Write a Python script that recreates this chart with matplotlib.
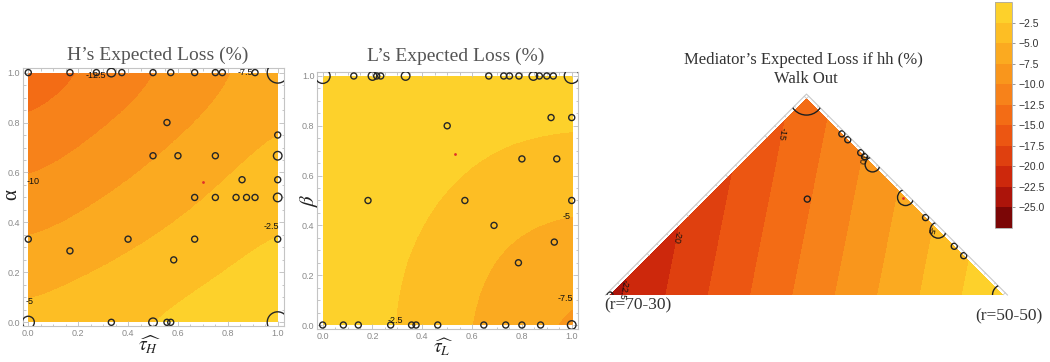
import numpy as np
import matplotlib
matplotlib.use("Agg")
import matplotlib.pyplot as plt
import matplotlib.tri as mtri
from matplotlib.colors import ListedColormap, BoundaryNorm
from matplotlib.cm import ScalarMappable
from matplotlib.patches import Rectangle, Polygon
from matplotlib.ticker import MultipleLocator, FormatStrFormatter

plt.rcParams['font.family'] = ['Liberation Sans', 'DejaVu Sans']
plt.rcParams['mathtext.fontset'] = 'stix'

# colour bands from -27.5 up to 0, step 2.5 (dark -> light)
band_colors = ['#7B0606', '#AC140A', '#CD280C', '#DF400F', '#EC5612', '#F36C15',
               '#F7821A', '#F9961C', '#FBAA20', '#FDBE24', '#FDD12B']
levels = np.arange(-27.5, 0.01, 2.5)
cbar_ticks = [-25.0, -22.5, -20.0, -17.5, -15.0, -12.5, -10.0, -7.5, -5.0, -2.5]

# loss on a 5x5 grid (rows: alpha / beta, cols: tau)
grid_pos = [0.0, 0.25, 0.5, 0.75, 1.0]
h_loss = [[-4.1, -3.1, -2.2, -1.2, -0.2],
          [-6.7, -5.5, -4.2, -3.0, -1.7],
          [-9.3, -7.8, -6.3, -4.7, -3.2],
          [-11.9, -10.1, -8.3, -6.5, -4.7],
          [-14.5, -12.4, -10.4, -8.3, -6.2]]
l_loss = [[-0.1, -2.2, -4.3, -6.3, -8.4],
          [-0.2, -1.9, -3.8, -5.6, -6.5],
          [-0.3, -1.1, -2.8, -4.1, -4.6],
          [-0.3, -0.3, -1.4, -2.4, -2.7],
          [-0.3, -0.3, -0.3, -0.6, -0.9]]

# mediator triangle: value at left corner, right corner, apex
tri_s = [0.0, 1.0, 0.5]
tri_t = [0.0, 0.0, 0.5]
tri_loss = [-23.3, -0.1, -14.0]

# observations (x, y, count)
h_x = [0, 0.167, 0.273, 0.333, 0.375, 0.5, 0.571, 0.667, 0.75, 0.778, 0.909, 1,
       0.556, 1, 0.5, 0.6, 0.75, 1, 0.857, 1, 0.667, 0.75, 0.833, 0.875, 0.909, 1,
       0, 0.4, 0.667, 1, 0.167, 0.583,
       0, 0.333, 0.5, 0.556, 0.571, 1]
h_y = [1, 1, 1, 1, 1, 1, 1, 1, 1, 1, 1, 1,
       0.8, 0.75, 0.667, 0.667, 0.667, 0.667, 0.571, 0.571, 0.5, 0.5, 0.5, 0.5, 0.5, 0.5,
       0.333, 0.333, 0.333, 0.333, 0.286, 0.25,
       0, 0, 0, 0, 0, 0]
h_n = [1, 1, 1, 2, 1, 1, 1, 1, 1, 1, 1, 12,
       1, 1, 1, 1, 1, 2, 1, 1, 1, 1, 1, 1, 1, 2,
       1, 1, 1, 1, 1, 1,
       4, 1, 2, 1, 1, 12]
h_mean = (0.70, 0.56)

l_x = [0, 0.125, 0.2, 0.217, 0.233, 0.333, 0.667, 0.727, 0.75, 0.788, 0.846, 0.87, 0.9, 0.926, 1,
       0.917, 1, 0.5, 0.8, 0.94, 0.182, 0.571, 1, 0.688, 0.93, 0.786,
       0, 0.083, 0.143, 0.273, 0.357, 0.375, 0.462, 0.647, 0.735, 0.8, 0.875, 1]
l_y = [1] * 15 + [0.833, 0.833, 0.8, 0.667, 0.667, 0.5, 0.5, 0.5, 0.4, 0.333, 0.25] + [0] * 12
l_n = [6, 1, 2, 1, 1, 2, 1, 1, 1, 1, 2, 1, 1, 1, 6,
       1, 1, 1, 1, 1, 1, 1, 1, 1, 1, 1,
       1, 1, 1, 1, 1, 1, 1, 1, 1, 1, 1, 2]
l_mean = (0.531, 0.685)

m_s = [0.5, 0.59, 0.605, 0.638, 0.648, 0.668, 0.752, 0.803, 0.835, 0.876, 0.9, 1.0, 0.502, 0.0]
m_t = [0.5, 0.41, 0.395, 0.362, 0.352, 0.332, 0.248, 0.197, 0.165, 0.124, 0.1, 0.0, 0.244, 0.0]
m_n = [30, 1, 1, 1, 1, 6, 7, 1, 7, 1, 1, 12, 1, 1]
m_mean = (0.745, 0.247)

cmap = ListedColormap(band_colors)
cmap.set_over(band_colors[-1])
norm = BoundaryNorm(levels, len(band_colors))

W, H = 1050, 362
fig = plt.figure(figsize=(W / 100, H / 100), dpi=100)


def square_panel(rect, grid, xs, ys, ns, mean, clabels):
    ax = fig.add_axes(rect)
    step = grid_pos[1] - grid_pos[0]
    ext = (grid_pos[0] - step / 2, grid_pos[-1] + step / 2,
           grid_pos[0] - step / 2, grid_pos[-1] + step / 2)
    im = ax.imshow(np.array(grid), extent=ext, origin='lower', cmap=cmap, norm=norm,
                   interpolation='bicubic', interpolation_stage='data', zorder=0)
    im.set_clip_path(Rectangle((0, 0), 1, 1, transform=ax.transData))
    ax.set_aspect('auto')
    ax.set_xlim(-0.022, 1.024)
    ax.set_ylim(-0.016, 1.018)
    ax.scatter(xs, ys, s=19 * np.asarray(ns), facecolors='none', edgecolors='#262626',
               linewidths=1.0, zorder=3)
    ax.plot(mean[0], mean[1], 'o', ms=2, color='#e0302a', mec='none', zorder=4)
    for txt, x, y in clabels:
        ax.text(x, y, txt, fontsize=6.5, ha='center', va='center', color='#111111', zorder=5)
    ax.xaxis.set_major_locator(MultipleLocator(0.2))
    ax.yaxis.set_major_locator(MultipleLocator(0.2))
    ax.xaxis.set_minor_locator(MultipleLocator(0.05))
    ax.yaxis.set_minor_locator(MultipleLocator(0.05))
    ax.xaxis.set_major_formatter(FormatStrFormatter('%.1f'))
    ax.yaxis.set_major_formatter(FormatStrFormatter('%.1f'))
    ax.tick_params(which='both', direction='in', top=True, right=True,
                   color='#bdbdbd', width=0.6, labelsize=6.5, labelcolor='#8a8a8a', pad=2)
    ax.tick_params(which='major', length=3.5)
    ax.tick_params(which='minor', length=1.8)
    for sp in ax.spines.values():
        sp.set_color('#c4c4c4')
        sp.set_linewidth(0.8)
    return ax


ax1 = square_panel([22.8 / W, 1 - 326.3 / H, 260.9 / W, 258.2 / H], h_loss, h_x, h_y, h_n, h_mean,
                   [('-12.5', 0.27, 0.99), ('-10', 0.02, 0.563), ('-7.5', 0.87, 1.0),
                    ('-5', 0.005, 0.083), ('-2.5', 0.975, 0.383)])
ax2 = square_panel([317.2 / W, 1 - 329 / H, 260.5 / W, 257.5 / H], l_loss, l_x, l_y, l_n, l_mean,
                   [('-2.5', 0.29, 0.02), ('-5', 0.98, 0.435), ('-7.5', 0.975, 0.107)])

fig.text(157.5 / W, 1 - 55 / H, 'H\u2019s Expected Loss (%)', fontsize=14, family='Liberation Serif',
         color='#555555', ha='center', va='center')
fig.text(455.8 / W, 1 - 56 / H, 'L\u2019s Expected Loss (%)', fontsize=14, family='Liberation Serif',
         color='#555555', ha='center', va='center')
fig.text(12 / W, 1 - 195 / H, '\u03b1', fontsize=15, family='Liberation Serif', rotation=90,
         ha='center', va='center', color='#222222')
fig.text(309 / W, 1 - 200 / H, r'$\beta$', fontsize=15, rotation=90,
         ha='center', va='center', color='#222222')
fig.text(150 / W, 1 - 345 / H, r'$\widehat{\tau_H}$', fontsize=14, ha='center', va='center',
         color='#222222')
fig.text(443 / W, 1 - 347 / H, r'$\widehat{\tau_L}$', fontsize=14, ha='center', va='center',
         color='#222222')

# mediator triangle
ax3 = fig.add_axes([590.35 / W, 1 - 314.65 / H, 432.3 / W, 235.8 / H])
ax3.set_xlim(-0.05, 1.05)
ax3.set_ylim(-0.05, 0.55)
ax3.axis('off')
triang = mtri.Triangulation(tri_s, tri_t)
ax3.tricontourf(triang, tri_loss, levels=levels, colors=band_colors)

d = 0.008 * np.sqrt(2)
ax3.plot([-d, 0.5, 1 + d], [0, 0.5 + d, 0], color='#c8c8c8', lw=0.8, clip_on=False)
off = 0.008 / np.sqrt(2)
for k in np.arange(0, 0.501, 0.025):
    ln = 0.007 if abs(k * 10 - round(k * 10)) < 1e-6 else 0.0035
    ln = ln / np.sqrt(2)
    # left edge, normal (-1, 1)
    ax3.plot([k - off, k - off + ln], [k + off, k + off - ln], color='#c8c8c8', lw=0.6, clip_on=False)
    # right edge, normal (1, 1)
    ax3.plot([1 - k + off, 1 - k + off - ln], [k + off, k + off - ln], color='#c8c8c8', lw=0.6,
             clip_on=False)

clip = Polygon([(-d, 0), (0.5, 0.5 + d), (1 + d, 0)], closed=True, transform=ax3.transData)
sc = ax3.scatter(m_s, m_t, s=19 * np.asarray(m_n), facecolors='none', edgecolors='#1f1f1f',
                 linewidths=1.0, zorder=3, clip_on=True)
sc.set_clip_path(clip)
ax3.plot(m_mean[0], m_mean[1], 'o', ms=2, color='#e0302a', mec='none', zorder=4)
for txt, s_, t_ in [('-15', 0.437, 0.411), ('-20', 0.17, 0.148), ('-10', 0.64, 0.348),
                    ('-5', 0.814, 0.165), ('-22.5', 0.035, 0.014)]:
    ax3.text(s_, t_, txt, fontsize=6.5, rotation=-100, ha='center', va='center', color='#111111',
             zorder=5)

fig.text(803 / W, 1 - 60 / H, 'Mediator\u2019s Expected Loss if hh (%)', fontsize=12,
         family='Liberation Serif', color='#333333', ha='center', va='center')
fig.text(806 / W, 1 - 79 / H, 'Walk Out', fontsize=12, family='Liberation Serif',
         color='#333333', ha='center', va='center')
fig.text(637.5 / W, 1 - 305.7 / H, '(r=70-30)', fontsize=12.5, family='Liberation Serif',
         color='#333333', ha='center', va='center')
fig.text(1009 / W, 1 - 316 / H, '(r=50-50)', fontsize=12.5, family='Liberation Serif',
         color='#333333', ha='center', va='center')

# colour bar
cax = fig.add_axes([995 / W, 1 - 228 / H, 17 / W, 226 / H])
cb = fig.colorbar(ScalarMappable(norm=norm, cmap=cmap), cax=cax, ticks=cbar_ticks)
cb.minorticks_off()
cb.set_ticklabels(['\u2212' + '%.1f' % abs(v) for v in cbar_ticks])
cb.outline.set_edgecolor('#aaaaaa')
cb.outline.set_linewidth(0.6)
cax.tick_params(length=2.5, width=0.6, color='#888888', labelsize=7.5, labelcolor='#333333', pad=2)

fig.savefig('out.png', dpi=100)
